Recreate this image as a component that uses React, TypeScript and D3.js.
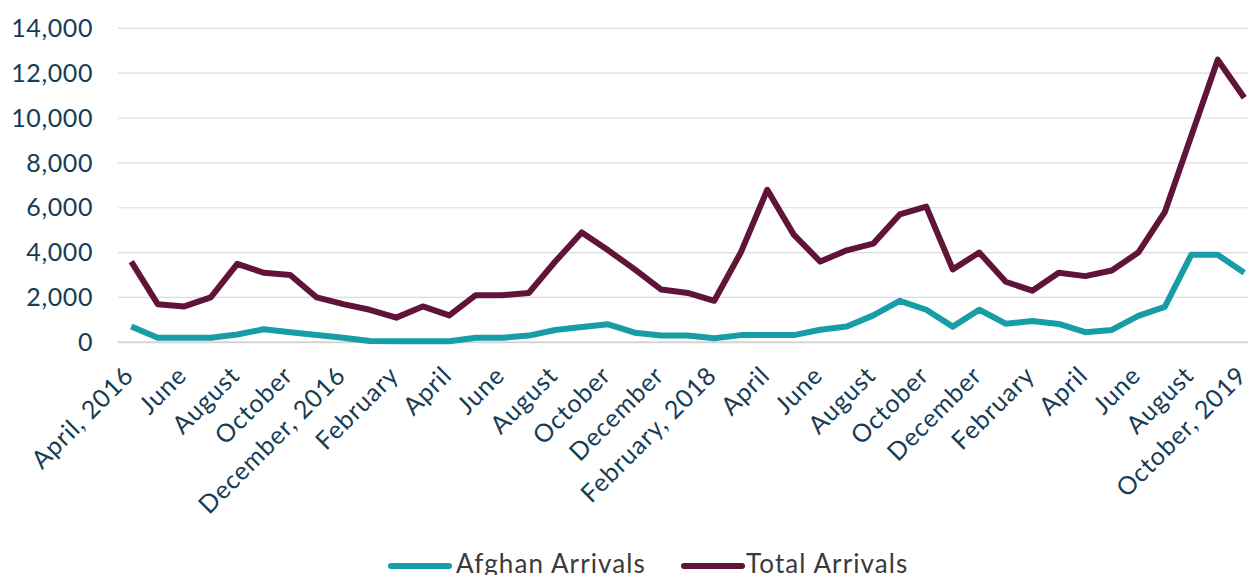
import * as d3 from "d3";
import React from "react";

// monthly arrivals, April 2016 .. October 2019
const months = [
  "April, 2016", "May", "June", "July", "August", "September", "October", "November", "December, 2016",
  "January", "February", "March", "April", "May", "June", "July", "August", "September", "October", "November", "December",
  "January", "February, 2018", "March", "April", "May", "June", "July", "August", "September", "October", "November", "December",
  "January", "February", "March", "April", "May", "June", "July", "August", "September", "October, 2019",
];

const afghan = [
  700, 200, 200, 200, 350, 580, 450, 330, 200, 60, 50,
  50, 50, 200, 200, 300, 550, 680, 800, 430, 300,
  300, 180, 320, 320, 320, 560, 700, 1200, 1850, 1450, 700, 1450,
  830, 950, 820, 450, 550, 1180, 1580, 3900, 3900, 3100,
];

const total = [
  3600, 1700, 1600, 2000, 3500, 3100, 3000, 2000, 1700, 1450, 1100,
  1600, 1200, 2100, 2100, 2200, 3600, 4900, 4100, 3250, 2350,
  2200, 1850, 4000, 6800, 4800, 3600, 4100, 4400, 5700, 6050, 3250, 4000,
  2700, 2300, 3100, 2950, 3200, 4000, 5800, 9200, 12600, 10900,
];

const yTicks = [0, 2000, 4000, 6000, 8000, 10000, 12000, 14000];

const series = [
  { name: "Afghan Arrivals", values: afghan, color: "#179da5" },
  { name: "Total Arrivals", values: total, color: "#5f1438" },
];

const W = 1248;
const H = 575;
const textColor = "#163c56";
const font = "Lato, 'Open Sans', sans-serif";

export default function App() {
  const idx = months.map((_, i) => i);
  const x = d3.scalePoint<number>().domain(idx).range([118, 1257.5]).padding(0.5);
  const y = d3.scaleLinear().domain([0, 14000]).range([342.3, 28.3]);
  const fmt = d3.format(",");

  const line = (vals: number[]) =>
    d3.line<number>().x((_, i) => x(i) as number).y((d) => y(d))(vals) || undefined;

  const legendItems = [
    { ...series[0], lx: 391, tx: 456 },
    { ...series[1], lx: 684, tx: 746 },
  ];

  return (
    <div style={{ position: "absolute", left: 0, top: 0 }}>
      <svg width={W} height={H} style={{ display: "block", fontFamily: font }}>
        <rect width={W} height={H} fill="#ffffff" />
        {yTicks.map((t) => (
          <g key={t}>
            {t > 0 && (
              <line x1={118} x2={W} y1={y(t)} y2={y(t)} stroke="#dcdcdc" strokeWidth={1.2} />
            )}
            <text
              x={93}
              y={y(t)}
              dy="0.35em"
              textAnchor="end"
              fontSize={25}
              letterSpacing={0.6}
              fill={textColor}
            >
              {fmt(t)}
            </text>
          </g>
        ))}
        <line x1={118} x2={W} y1={y(0)} y2={y(0)} stroke="#d4d4d4" strokeWidth={2} />

        {months.map((m, i) =>
          i % 2 === 0 ? (
            <text
              key={i}
              transform={`translate(${(x(i) as number) + 4},${377}) rotate(-45)`}
              textAnchor="end"
              fontSize={25}
              letterSpacing={0.9}
              fill={textColor}
            >
              {m}
            </text>
          ) : null
        )}

        {series.map((s) => (
          <path
            key={s.name}
            d={line(s.values)}
            fill="none"
            stroke={s.color}
            strokeWidth={6}
            strokeLinejoin="round"
          />
        ))}

        {legendItems.map((l) => (
          <g key={l.name}>
            <line
              x1={l.lx}
              x2={l.lx + 58}
              y1={566}
              y2={566}
              stroke={l.color}
              strokeWidth={6}
              strokeLinecap="round"
            />
            <text x={l.tx} y={573} fontSize={26} letterSpacing={1.1} fill="#3a3a3a">
              {l.name}
            </text>
          </g>
        ))}
      </svg>
    </div>
  );
}
